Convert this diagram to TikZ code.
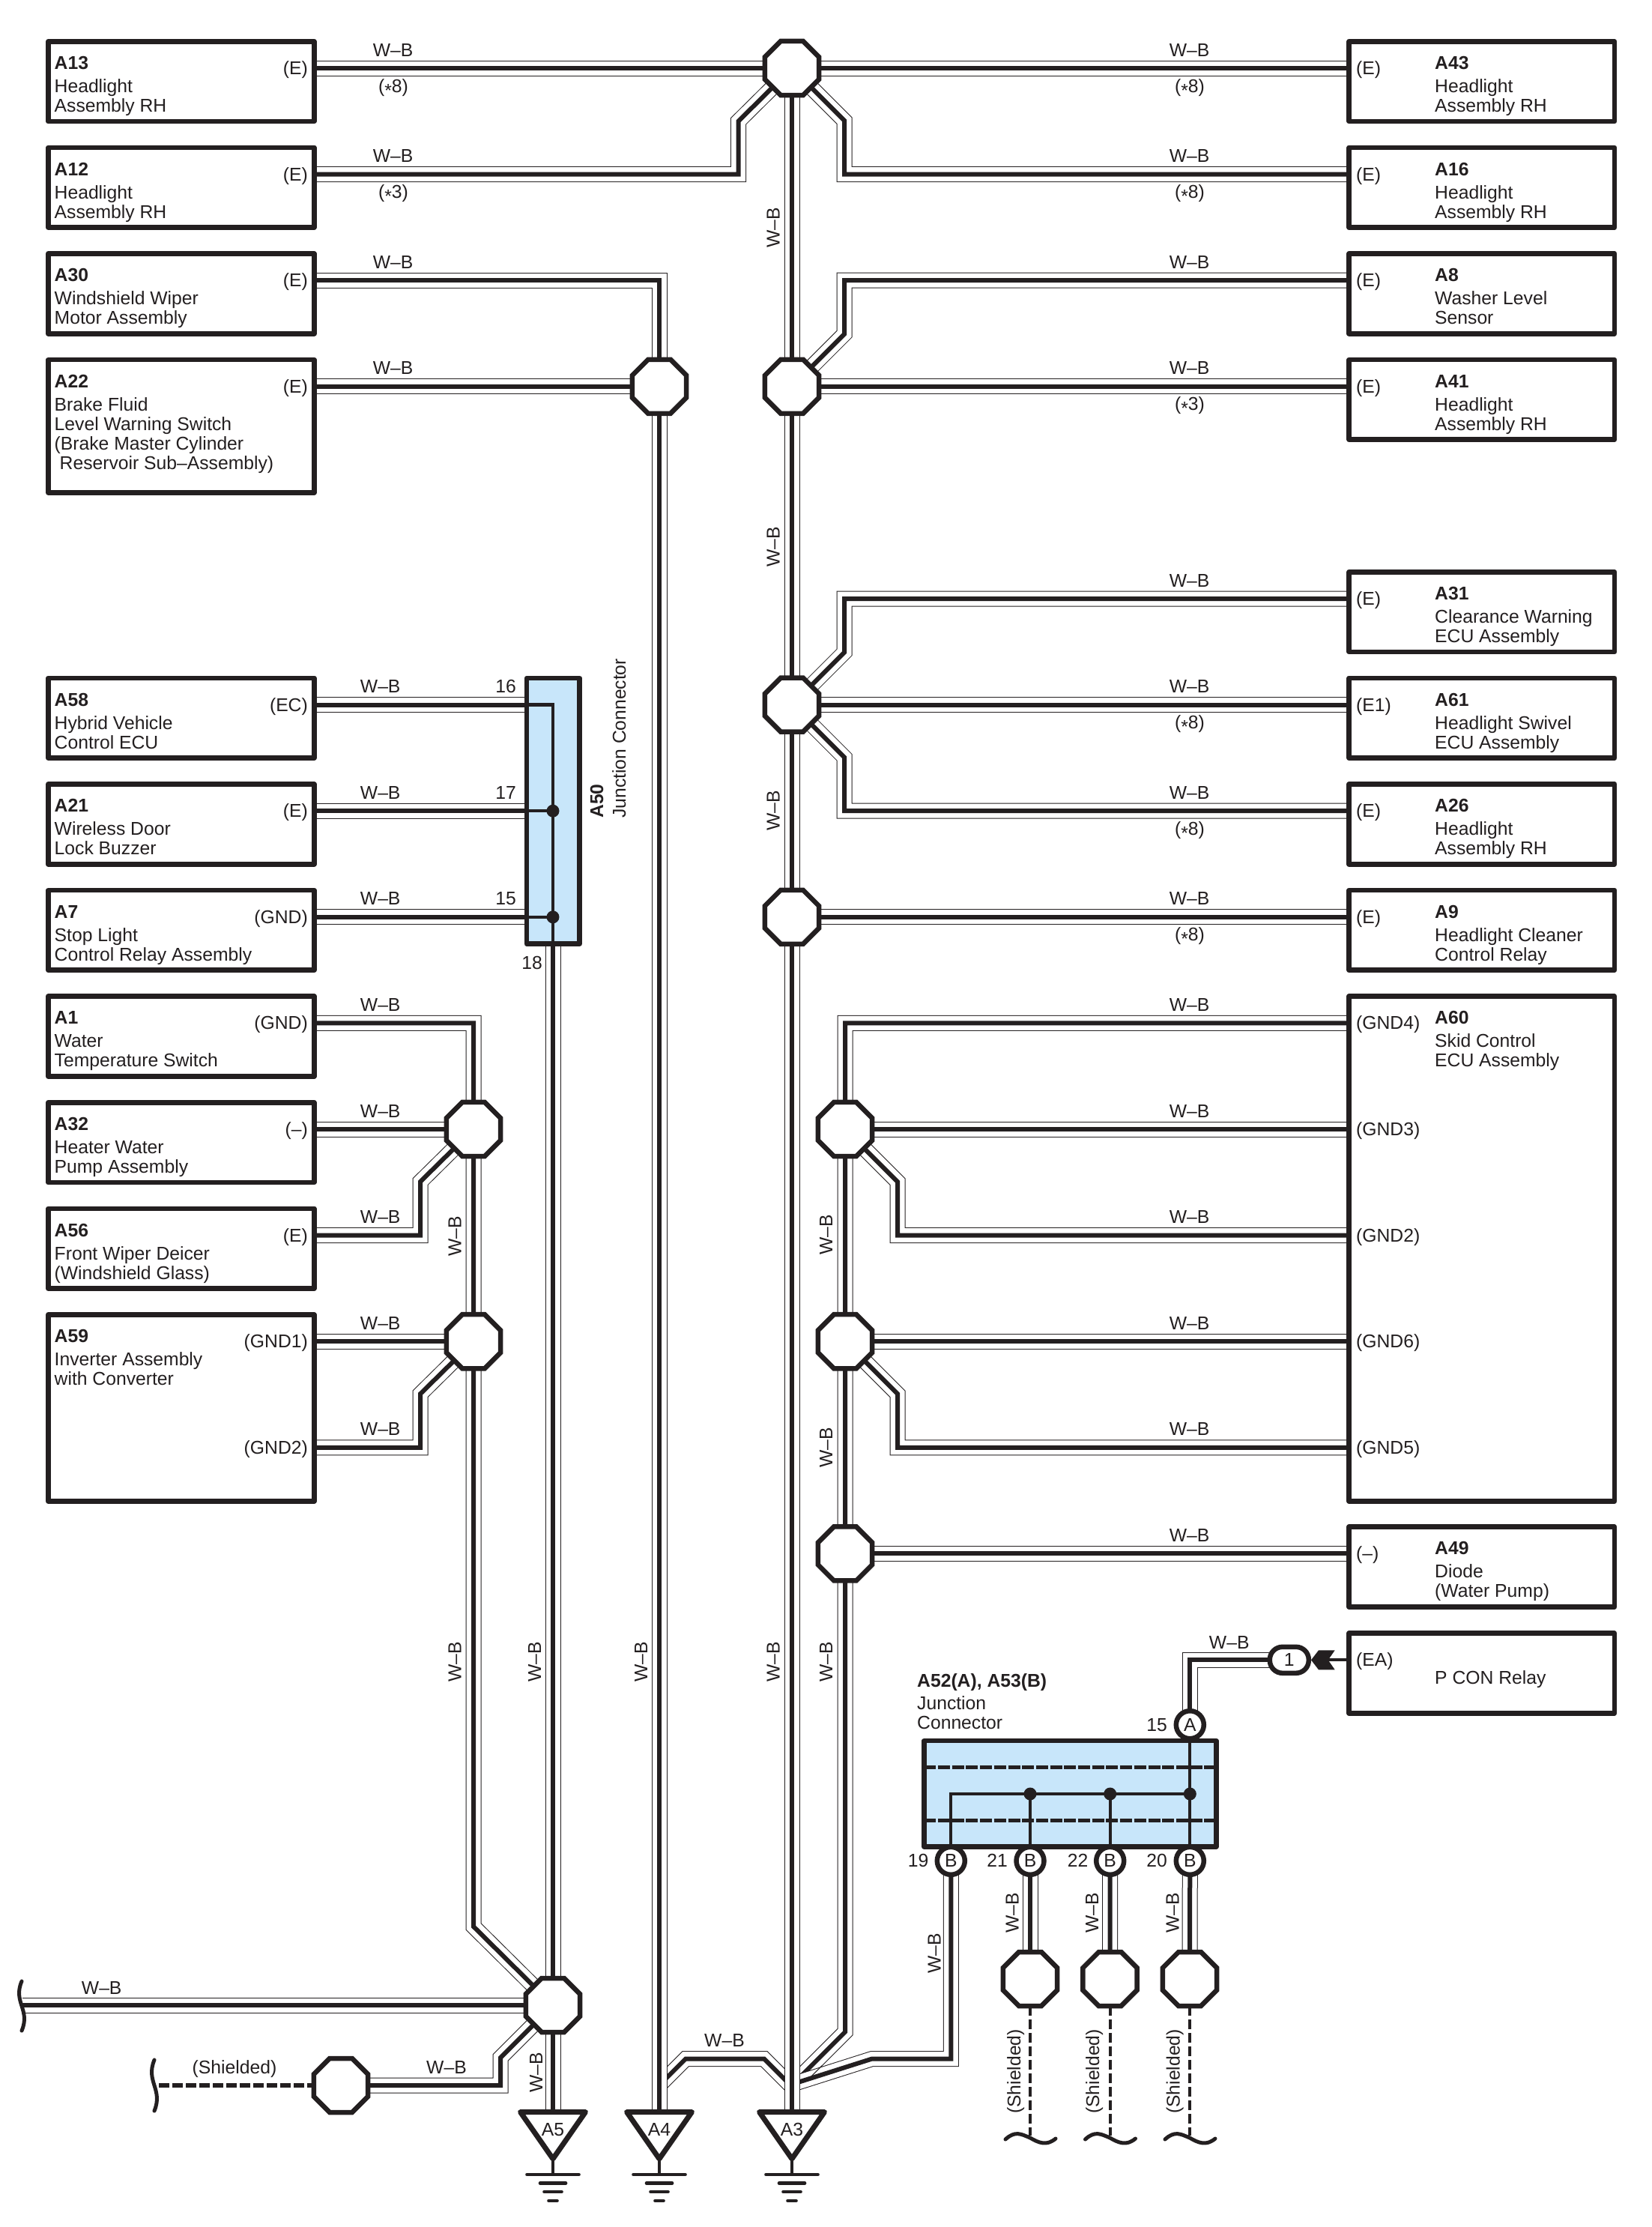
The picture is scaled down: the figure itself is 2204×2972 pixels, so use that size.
\documentclass[tikz,border=0pt]{standalone}
\usepackage{fontspec}
\setmainfont{Liberation Sans}
\usetikzlibrary{shapes.geometric,backgrounds}
\definecolor{ink}{HTML}{231F20}
\definecolor{jblue}{HTML}{C8E6FA}
\newcounter{lbl}
\tikzset{
  lab/.style={inner sep=0pt,anchor=base,text=ink},
  devbox/.style={draw=ink,fill=white,line width=6.7pt,line join=round,inner sep=0pt,outer sep=0pt,anchor=north west},
  jbox/.style={draw=ink,fill=jblue,line width=6.5pt,line join=round,inner sep=0pt,outer sep=0pt,anchor=north west},
  hub/.style={regular polygon,regular polygon sides=8,draw=ink,fill=white,line width=6.5pt,minimum size=78pt,inner sep=0pt,outer sep=0pt},
  pin/.style={circle,draw=ink,fill=white,line width=6.5pt,minimum size=37pt,inner sep=0pt,outer sep=0pt,text=ink},
  wire/.style={draw=ink,line width=6pt,line join=miter,preaction={draw=ink,line width=21pt},preaction={draw=white,line width=19pt}},
  shield/.style={draw=ink,line width=6pt,dash pattern=on 14pt off 4pt},
  shieldv/.style={draw=ink,line width=4pt,dash pattern=on 13pt off 5pt},
  inner/.style={draw=ink,line width=4.3pt},
  squig/.style={draw=ink,line width=5pt,line cap=round},
  jdash/.style={draw=ink,line width=5pt,dash pattern=on 16pt off 2.7pt},
  every node/.append style={font=\fontsize{24.7}{26}\selectfont},
}
\newcommand{\st}{\raisebox{-.25em}{*}}
\newcommand{\lab}[3][]{\stepcounter{lbl}\node[lab,#1] (lbl\arabic{lbl}) at (#2) {#3};}
\newcommand{\txt}[2]{\begin{tabular}[t]{@{}l@{}}\textbf{#1}\\[5pt]#2\end{tabular}}
% id, y, height, name, lines, pin label
\newcommand{\devL}[6]{%
  \node[devbox,minimum width=355pt,minimum height=#3pt] (#1) at (64.3,{#2-35.7}) {};
  \coordinate (#1p) at (419.3,#2);
  \node[lab,anchor=base west] (#1t) at (72.5,{#2+1.5}) {\txt{#4}{#5}};
  \node[lab,anchor=base east] (#1e) at (411,{#2+8.5}) {#6};
}
\newcommand{\devR}[6]{%
  \node[devbox,minimum width=354.3pt,minimum height=#3pt] (#1) at (1800.7,{#2-35.7}) {};
  \coordinate (#1p) at (1800.7,#2);
  \node[lab,anchor=base west] (#1t) at (1915,{#2+1.5}) {\txt{#4}{#5}};
  \node[lab,anchor=base west] (#1e) at (1810,{#2+8.5}) {#6};
}
\newcommand{\gnd}[2]{%
  \draw[draw=ink,fill=white,line width=7pt,line join=round] (#2-43.5,2818.5) -- (#2+43.5,2818.5) -- (#2,2881) -- cycle;
  \coordinate (#1) at (#2,2818.5);
  \node[lab] (#1t) at (#2,2850) {#1};
  \draw[draw=ink,line width=4pt] (#2,2882) -- (#2,2902);
  \draw[draw=ink,line width=4.7pt,line cap=round] (#2-34.5,2902) -- (#2+34.5,2902);
  \draw[draw=ink,line width=4.7pt,line cap=round] (#2-17,2913.5) -- (#2+17,2913.5);
  \draw[draw=ink,line width=4.7pt,line cap=round] (#2-11.5,2925) -- (#2+11.5,2925);
  \draw[draw=ink,line width=4.7pt,line cap=round] (#2-5.5,2937) -- (#2+5.5,2937);
}
\begin{document}
\begin{tikzpicture}[x=1pt,y=-1pt]
\path[use as bounding box] (0,0) rectangle (2204,2972);
% rows
\def\rA{91}\def\rB{232.6}\def\rC{374.2}\def\rD{515.8}\def\rF{799}\def\rG{940.6}\def\rH{1082.2}\def\rI{1223.8}\def\rJ{1365.4}\def\rK{1507}\def\rL{1648.6}\def\rM{1790.2}\def\rN{1931.8}\def\rO{2073.4}\def\rP{2215.3}
% left devices
\devL{A13}{\rA}{106.7}{A13}{Headlight\\Assembly RH}{(E)}
\devL{A12}{\rB}{106.7}{A12}{Headlight\\Assembly RH}{(E)}
\devL{A30}{\rC}{106.7}{A30}{Windshield Wiper\\Motor Assembly}{(E)}
\devL{A22}{\rD}{177.3}{A22}{Brake Fluid\\Level Warning Switch\\(Brake Master Cylinder\\\hspace{7pt}Reservoir Sub–Assembly)}{(E)}
\devL{A58}{\rG}{106.7}{A58}{Hybrid Vehicle\\Control ECU}{(EC)}
\devL{A21}{\rH}{106.7}{A21}{Wireless Door\\Lock Buzzer}{(E)}
\devL{A7}{\rI}{106.7}{A7}{Stop Light\\Control Relay Assembly}{(GND)}
\devL{A1}{\rJ}{106.7}{A1}{Water\\Temperature Switch}{(GND)}
\devL{A32}{\rK}{106.7}{A32}{Heater Water\\Pump Assembly}{(–)}
\devL{A56}{\rL}{106.7}{A56}{Front Wiper Deicer\\(Windshield Glass)}{(E)}
\devL{A59}{\rM}{248.9}{A59}{Inverter Assembly\\with Converter}{(GND1)}
\coordinate (A59q) at (419.3,\rN);
\lab[anchor=base east]{411,\rN+9}{(GND2)}
% right devices
\devR{A43}{\rA}{106.7}{A43}{Headlight\\Assembly RH}{(E)}
\devR{A16}{\rB}{106.7}{A16}{Headlight\\Assembly RH}{(E)}
\devR{A8}{\rC}{106.7}{A8}{Washer Level\\Sensor}{(E)}
\devR{A41}{\rD}{106.7}{A41}{Headlight\\Assembly RH}{(E)}
\devR{A31}{\rF}{106.7}{A31}{Clearance Warning\\ECU Assembly}{(E)}
\devR{A61}{\rG}{106.7}{A61}{Headlight Swivel\\ECU Assembly}{(E1)}
\devR{A26}{\rH}{106.7}{A26}{Headlight\\Assembly RH}{(E)}
\devR{A9}{\rI}{106.7}{A9}{Headlight Cleaner\\Control Relay}{(E)}
\devR{A60}{\rJ}{673.7}{A60}{Skid Control\\ECU Assembly}{(GND4)}
\coordinate (A60c) at (1800.7,\rK);\coordinate (A60d) at (1800.7,\rL);\coordinate (A60e) at (1800.7,\rM);\coordinate (A60f) at (1800.7,\rN);
\lab[anchor=base west]{1810,\rK+8.5}{(GND3)}
\lab[anchor=base west]{1810,\rL+8.5}{(GND2)}
\lab[anchor=base west]{1810,\rM+8.5}{(GND6)}
\lab[anchor=base west]{1810,\rN+8.5}{(GND5)}
\devR{A49}{\rO}{106.7}{A49}{Diode\\(Water Pump)}{(–)}
\node[devbox,minimum width=354.3pt,minimum height=106.7pt] (PCON) at (1800.7,{\rP-35.7}) {};
\coordinate (PCONp) at (1800.7,\rP);
\lab[anchor=base west]{1810,\rP+8.5}{(EA)}
\lab[anchor=base west]{1915,\rP+32}{P CON Relay}
% hubs
\node[hub] (H1) at (1057,\rA) {};
\node[hub] (H2) at (1057,\rD) {};
\node[hub] (H3) at (1057,\rG) {};
\node[hub] (H4) at (1057,\rI) {};
\node[hub] (H5) at (880,\rD) {};
\node[hub] (H6) at (632,\rK) {};
\node[hub] (H7) at (632,\rM) {};
\node[hub] (H8) at (1128,\rK) {};
\node[hub] (H9) at (1128,\rM) {};
\node[hub] (H10) at (1128,\rO) {};
\node[hub] (H11) at (738,2676) {};
\node[hub] (H12) at (455,2783) {};
\node[hub] (H13) at (1375,2641) {};
\node[hub] (H14) at (1481.5,2641) {};
\node[hub] (H15) at (1588,2641) {};
% grounds
\gnd{A5}{738}
\gnd{A4}{880}
\gnd{A3}{1057}
% A50 junction connector
\node[jbox,minimum width=70.7pt,minimum height=354.7pt] (A50) at (703,905) {};
\coordinate (p16) at (703,\rG);\coordinate (p17) at (703,\rH);\coordinate (p15) at (703,\rI);\coordinate (p18) at (738,1260);
\draw[inner,line join=miter] (p16) -- (738,\rG) -- (p18);
\draw[inner] (p17) -- (738,\rH);
\draw[inner] (p15) -- (738,\rI);
\fill[ink] (738,\rH) circle (8.5);
\fill[ink] (738,\rI) circle (8.5);
\lab[anchor=base east]{689,\rG-16}{16}
\lab[anchor=base east]{689,\rH-16}{17}
\lab[anchor=base east]{689,\rI-16}{15}
\lab[anchor=base east]{724,1293}{18}
\lab[rotate=90,anchor=base west]{805,1092}{\textbf{A50}}
\lab[rotate=90,anchor=base west]{835,1092}{Junction Connector}
% A52/A53 junction connector
\node[jbox,minimum width=390pt,minimum height=141.5pt] (JC) at (1233.3,2323) {};
\draw[jdash] (JC.west |- 0,2358.3) -- (JC.east |- 0,2358.3);
\draw[jdash] (JC.west |- 0,2429) -- (JC.east |- 0,2429);
\node[pin] (PA) at (1588.3,2301.7) {A};
\node[pin] (PB19) at (1269.3,2483.3) {B};
\node[pin] (PB21) at (1375,2483.3) {B};
\node[pin] (PB22) at (1481.7,2483.3) {B};
\node[pin] (PB20) at (1588.3,2483.3) {B};
\draw[inner,line join=miter] (PB19.north) -- (1269.3,2394) -- (1588.3,2394);
\draw[inner] (PB21.north) -- (1375,2394);
\draw[inner] (PB22.north) -- (1481.7,2394);
\draw[inner] (PB20.north) -- (PA.south);
\fill[ink] (1375,2394) circle (8.5);
\fill[ink] (1481.7,2394) circle (8.5);
\fill[ink] (1588.3,2394) circle (8.5);
\lab[anchor=base east]{1558,2310}{15}
\lab[anchor=base east]{1239.5,2491.7}{19}
\lab[anchor=base east]{1345,2491.7}{21}
\lab[anchor=base east]{1452.5,2491.7}{22}
\lab[anchor=base east]{1558,2491.7}{20}
\lab[anchor=base west]{1224,2251}{\textbf{A52(A), A53(B)}}
\lab[anchor=base west]{1224,2281.7}{Junction}
\lab[anchor=base west]{1224,2307}{Connector}
% connector 1 and arrow
\node[draw=ink,fill=white,line width=6.5pt,rounded corners=17pt,minimum width=52pt,minimum height=35pt,inner sep=0pt,outer sep=0pt,text=ink] (C1) at (1720.8,\rP) {1};
\fill[ink] (1750,\rP) -- (1760,\rP-13) -- (1781.7,\rP-13) -- (1772.7,\rP) -- (1781.7,\rP+13) -- (1760,\rP+13) -- cycle;
\draw[draw=ink,line width=4pt] (1772,\rP) -- (PCONp);
% squiggles and shielded lines
\draw[squig] (29,2644) .. controls (17,2672) and (41,2682) .. (29,2710);
\draw[squig] (206,2749) .. controls (194,2778) and (218,2788) .. (206,2817);
\coordinate (S0) at (212,2783);
\draw[shield] (S0) -- (H12.west);
\foreach \n/\x in {H13/1375,H14/1481.5,H15/1588}{
  \draw[shieldv] (\n.south) -- (\x,2850);
  \draw[squig] (\x-33,2855) .. controls (\x-20,2843) and (\x-12,2848) .. (\x,2853) .. controls (\x+12,2860) and (\x+22,2864) .. (\x+34,2854);
}
% wire labels
\foreach \y in {\rA,\rB,\rC,\rD}{\lab{524.6,\y-16}{W–B}\lab{1587.5,\y-16}{W–B}}
\foreach \y in {\rG,\rH,\rI,\rJ,\rK,\rL,\rM,\rN}{\lab{507.7,\y-16}{W–B}\lab{1587.5,\y-16}{W–B}}
\lab{1587.5,\rF-16}{W–B}
\lab{1587.5,\rO-16}{W–B}
\lab{525,\rA+32}{(\st8)}
\lab{525,\rB+32}{(\st3)}
\lab{1588,\rA+32}{(\st8)}
\lab{1588,\rB+32}{(\st8)}
\lab{1588,\rD+32}{(\st3)}
\lab{1588,\rG+32}{(\st8)}
\lab{1588,\rH+32}{(\st8)}
\lab{1588,\rI+32}{(\st8)}
\lab[rotate=90]{1040.5,303.6}{W–B}
\lab[rotate=90]{1040.5,730}{W–B}
\lab[rotate=90]{1040.5,1082}{W–B}
\lab[rotate=90]{1040.5,2218}{W–B}
\lab[rotate=90]{615.7,1649.7}{W–B}
\lab[rotate=90]{615.7,2218}{W–B}
\lab[rotate=90]{722,2218}{W–B}
\lab[rotate=90]{724,2766}{W–B}
\lab[rotate=90]{864,2218}{W–B}
\lab[rotate=90]{1111,1648}{W–B}
\lab[rotate=90]{1111,1932}{W–B}
\lab[rotate=90]{1111,2218}{W–B}
\lab{135.7,2661.7}{W–B}
\lab{596,2767}{W–B}
\lab{967,2731.7}{W–B}
\lab{1640.7,2200}{W–B}
\lab{313,2767.7}{(Shielded)}
\lab[rotate=90]{1255.5,2607}{W–B}
\lab[rotate=90]{1359.7,2552.8}{W–B}
\lab[rotate=90]{1466,2552.8}{W–B}
\lab[rotate=90]{1573.5,2552.8}{W–B}
\lab[rotate=90]{1362,2764.4}{(Shielded)}
\lab[rotate=90]{1467,2764.4}{(Shielded)}
\lab[rotate=90]{1574.5,2764.4}{(Shielded)}
% wires
\begin{scope}[on background layer]
\fill[white] (0,0) rectangle (2204,2972);
\draw[wire] (A13p) -- (H1.center);
\draw[wire] (A43p) -- (H1.center);
\draw[wire] (A12p) -- (985.7,\rB) -- (985.7,161.6) -- (H1.center);
\draw[wire] (A16p) -- (1127,\rB) -- (1127,161) -- (H1.center);
\draw[wire] (A8p) -- (1127,\rC) -- (1127,445.8) -- (H2.center);
\draw[wire] (A41p) -- (H2.center);
\draw[wire] (A31p) -- (1127,\rF) -- (1127,870.6) -- (H3.center);
\draw[wire] (A61p) -- (H3.center);
\draw[wire] (A26p) -- (1127,\rH) -- (1127,1010.6) -- (H3.center);
\draw[wire] (A9p) -- (H4.center);
\draw[wire] (A22p) -- (H5.center);
\draw[wire] (A58p) -- (p16);
\draw[wire] (A21p) -- (p17);
\draw[wire] (A7p) -- (p15);
\draw[wire] (A32p) -- (H6.center);
\draw[wire] (A56p) -- (561,\rL) -- (561,1577) -- (H6.center);
\draw[wire] (A59p) -- (H7.center);
\draw[wire] (A59q) -- (561,\rN) -- (561,1860.2) -- (H7.center);
\draw[wire] (A60c) -- (H8.center);
\draw[wire] (A60d) -- (1198,\rL) -- (1198,1577) -- (H8.center);
\draw[wire] (A60e) -- (H9.center);
\draw[wire] (A60f) -- (1198,\rN) -- (1198,1860.2) -- (H9.center);
\draw[wire] (A49p) -- (H10.center);
\draw[wire] (PCONp -| C1.center) -- (1588.3,\rP) -- (PA.center);
\draw[wire] (29.5,2676) -- (H11.center);
\draw[wire] (H12.center) -- (668,2783) -- (668,2746) -- (H11.center);
\draw[wire] (PB21.center) -- (H13.center);
\draw[wire] (PB22.center) -- (H14.center);
\draw[wire] (PB20.center) -- (H15.center);
\draw[wire] (A60p) -- (1128,\rJ) -- (1128,2711.7) -- (1057,2782.7);
\draw[wire] (PB19.center) -- (1269.3,2747.7) -- (1163.3,2747.7) -- (1057,2781.5);
\draw[draw=ink,line width=1pt] (1097,2756.8) -- (1083,2770.8);
\draw[wire] (880,2782.7) -- (915,2747.7) -- (1020,2747.7) -- (1057,2784.7);
\draw[wire] (A1p) -- (632,\rJ) -- (632,2571) -- (H11.center);
\draw[wire] (p18) -- (A5);
\draw[wire] (A30p) -- (880,\rC) -- (A4);
\draw[wire] (H1.center) -- (A3);
\end{scope}
\end{tikzpicture}
\end{document}
